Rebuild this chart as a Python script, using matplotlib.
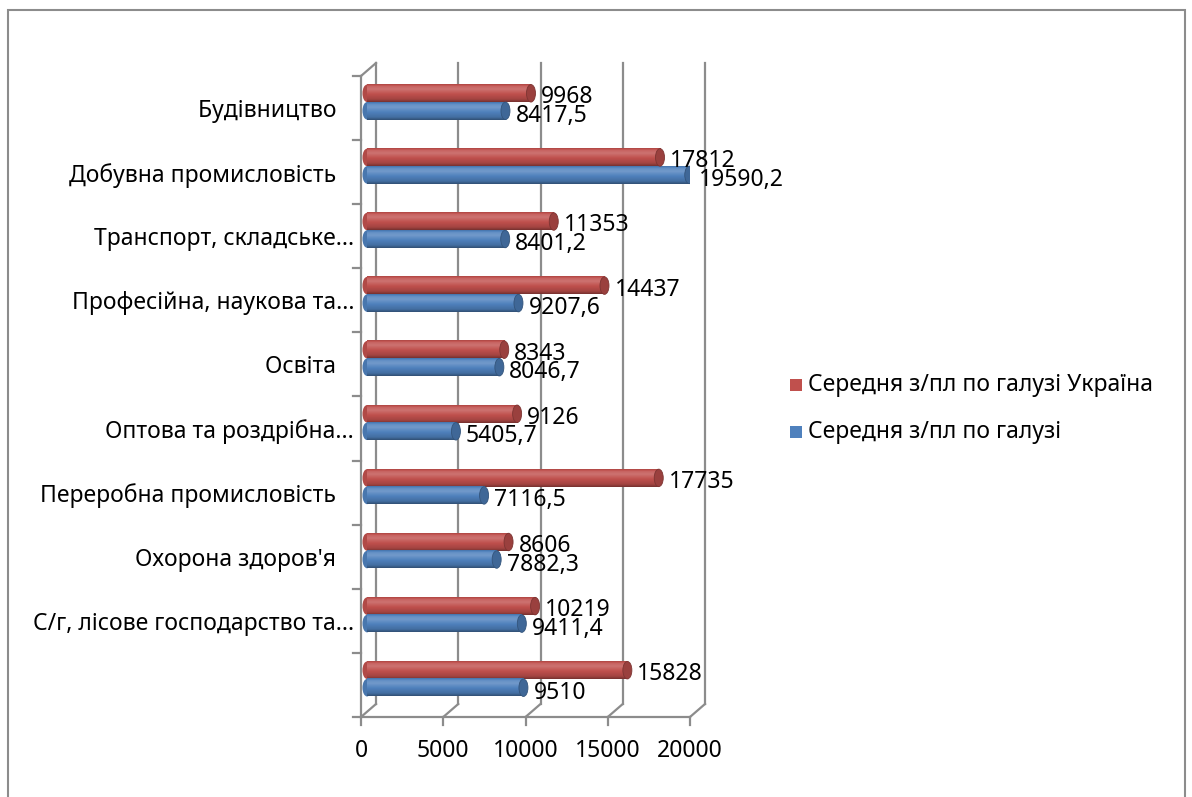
import numpy as np
import matplotlib.pyplot as plt
from matplotlib.patches import Ellipse, Rectangle

plt.rcParams['font.family'] = ['Noto Sans', 'DejaVu Sans']

# Дані: знизу вгору
categories = ['', 'С/г, лісове господарство та...', "Охорона здоров'я   ",
              'Переробна промисловість   ', 'Оптова та роздрібна...', 'Освіта   ',
              'Професійна, наукова та...', 'Транспорт, складське...',
              'Добувна промисловість   ', 'Будівництво   ']
wage_region = [9510, 9411.4, 7882.3, 7116.5, 5405.7, 8046.7, 9207.6, 8401.2, 19590.2, 8417.5]
wage_ukraine = [15828, 10219, 8606, 17735, 9126, 8343, 14437, 11353, 17812, 9968]
series_names = ['Середня з/пл по галузі Україна', 'Середня з/пл по галузі']
x_ticks = [0, 5000, 10000, 15000, 20000]

RED = np.array([192, 80, 77]) / 255
BLUE = np.array([79, 129, 189]) / 255
GRID = '#8c8c8c'
FS = 16.5

W, H = 1192, 797
fig = plt.figure(figsize=(W / 100, H / 100), dpi=100)
ax_l, ax_r, ax_t, ax_b = 361, 690, 76, 717
ax = fig.add_axes([ax_l / W, 1 - ax_b / H, (ax_r - ax_l) / W, (ax_b - ax_t) / H])
ax.set_xlim(0, 20000)
ax.set_ylim(-0.5, 9.5)

# пікселі -> одиниці даних
ux = 20000 / (ax_r - ax_l)
uy = 10 / (ax_b - ax_t)
depth_x, depth_y = 15 * ux, 13 * uy      # задня стінка
bar_dx, bar_dy = 6 * ux, 6 * uy          # зсув циліндрів усередину
thick = 17.5 * uy
cap_w = 9 * ux


def shade(base, n=40):
    t = np.linspace(0, 1, n)
    f = np.interp(t, [0, 0.15, 0.45, 0.72, 0.88, 1.0], [0.62, 0.85, 1.0, 1.2, 1.12, 0.9])
    rows = []
    for k in f:
        if k <= 1:
            rows.append(base * k)
        else:
            rows.append(base + (1 - base) * (k - 1))
    return np.array(rows)[::-1].reshape(n, 1, 3)


def cylinder(val, yc, base):
    x0 = bar_dx
    y0 = yc - thick / 2
    ax.add_patch(Ellipse((x0, yc), cap_w, thick, facecolor=base * 0.92,
                         edgecolor='none', zorder=3))
    ax.imshow(shade(base), extent=(x0, x0 + val, y0, y0 + thick), aspect='auto',
              interpolation='bilinear', zorder=4)
    ax.add_patch(Ellipse((x0 + val, yc), cap_w, thick, facecolor=base * 0.8,
                         edgecolor=base * 0.65, lw=0.6, zorder=5))


def fmt(v):
    return f'{v:g}'.replace('.', ',')


# задня стінка та підлога
for xt in x_ticks:
    ax.plot([xt + depth_x] * 2, [-0.5 + depth_y, 9.5 + depth_y], color=GRID, lw=1.6,
            zorder=1, clip_on=False)
    ax.plot([xt, xt + depth_x], [-0.5, -0.5 + depth_y], color=GRID, lw=1.6,
            zorder=1, clip_on=False)
    ax.plot([xt, xt], [-0.5, -0.5 - 8 * uy], color=GRID, lw=1.6, clip_on=False)
ax.plot([0, 20000], [-0.5, -0.5], color=GRID, lw=1.6, clip_on=False)
ax.plot([0, 0], [-0.5, 9.5], color=GRID, lw=1.6, clip_on=False, zorder=2)
ax.plot([0, depth_x], [9.5, 9.5 + depth_y], color=GRID, lw=1.6, clip_on=False)
for yb in np.arange(-0.5, 10, 1):
    ax.plot([0, -8 * ux], [yb, yb], color=GRID, lw=1.6, clip_on=False)

# циліндри і підписи значень
for i in range(len(categories)):
    yc = i + bar_dy
    y_red = yc + thick / 2
    y_blue = yc - thick / 2
    cylinder(wage_ukraine[i], y_red, RED)
    cylinder(wage_region[i], y_blue, BLUE)
    ax.text(bar_dx + wage_ukraine[i] + 10 * ux, y_red - 4 * uy, fmt(wage_ukraine[i]),
            fontsize=FS, va='center', ha='left', zorder=6)
    ax.text(bar_dx + wage_region[i] + 10 * ux, y_blue - 5 * uy, fmt(wage_region[i]),
            fontsize=FS, va='center', ha='left', zorder=6)

ax.set_xticks(x_ticks)
ax.set_xticklabels([str(v) for v in x_ticks], fontsize=FS)
ax.set_yticks(range(len(categories)))
ax.set_yticklabels(categories, fontsize=FS)
ax.tick_params(axis='x', length=0, pad=16)
ax.tick_params(axis='y', length=0, pad=5)
for s in ax.spines.values():
    s.set_visible(False)

# легенда
for k, (name, col) in enumerate(zip(series_names, [RED, BLUE])):
    yc = 385 + 47 * k
    fig.add_artist(Rectangle((790 / W, 1 - (yc + 6) / H), 12 / W, 12 / H,
                             transform=fig.transFigure, facecolor=col, edgecolor='none'))
    fig.text(808 / W, 1 - yc / H, name, fontsize=FS, va='center', ha='left')

# рамка діаграми
fig.add_artist(Rectangle((8 / W, -0.02), (1185 - 8) / W, 1 - 10 / H + 0.02,
                         transform=fig.transFigure, fill=False, edgecolor=GRID, lw=1.5))

fig.savefig('out.png', dpi=100)
